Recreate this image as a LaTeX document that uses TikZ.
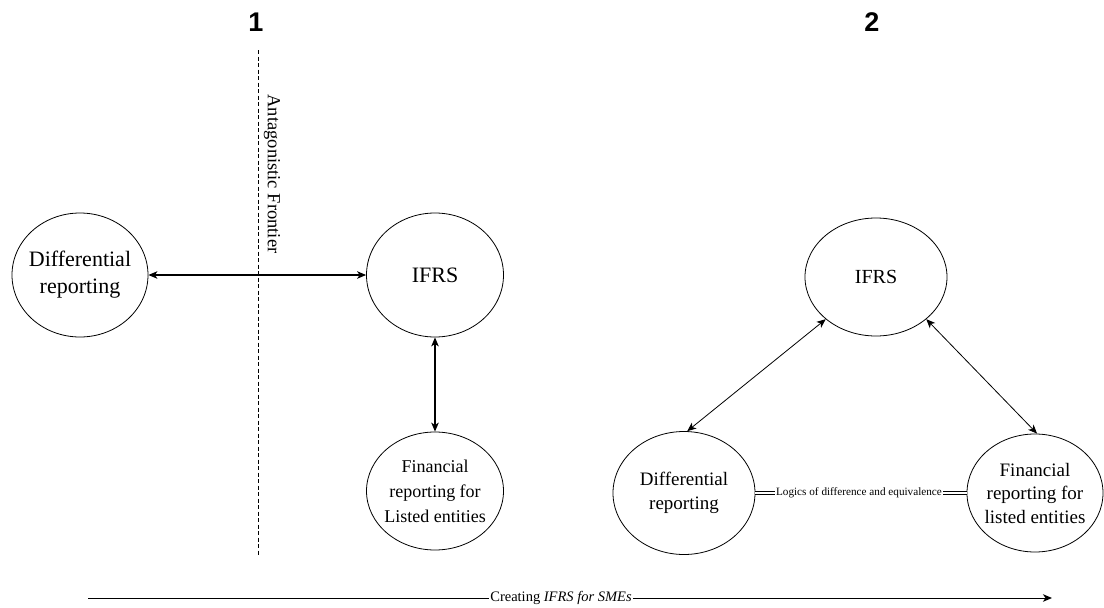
\documentclass[tikz,border=0pt]{standalone}
\usepackage{fontspec}
\setmainfont{Liberation Serif}
\newfontfamily\numfont{Liberation Sans}
\usetikzlibrary{shapes.geometric,arrows.meta}
\begin{document}
\begin{tikzpicture}[x=1pt,y=-1pt,
  oval/.style={ellipse,draw,line width=0.8pt,inner sep=-30pt,align=center},
  bigtxt/.style={font=\fontsize{22}{27}\selectfont},
  midtxt/.style={font=\fontsize{19}{23.5}\selectfont},
  fintxt/.style={font=\fontsize{18}{25}\selectfont},
  tip/.style={{Stealth[length=9pt,width=7.5pt,inset=2.5pt]}-{Stealth[length=9pt,width=7.5pt,inset=2.5pt]}},
  conn/.style={tip,line width=1.1pt},
  thinconn/.style={tip,line width=0.8pt},
  numlab/.style={font=\numfont\bfseries\fontsize{27}{30}\selectfont,inner sep=0pt}]
\useasboundingbox[fill=white] (0,0) rectangle (1104,608);

% section numbers
\node[numlab] (n1) at (256,22) {1};
\node[numlab] (n2) at (872,22) {2};

% antagonistic frontier
\coordinate (ftop) at (258,50);
\coordinate (fbot) at (258,555);
\draw[line width=0.8pt,dash pattern=on 4pt off 2.5pt] (ftop) -- (fbot);
\node[rotate=-90,font=\fontsize{18.5}{22}\selectfont,inner sep=0pt] (ftxt) at (272,174) {Antagonistic Frontier};

% diagram 1
\node[oval,bigtxt,minimum width=136pt,minimum height=124pt] (diff1) at (80,275) {Differential\\reporting};
\node[oval,bigtxt,minimum width=137pt,minimum height=124pt] (ifrs1) at (435,275) {IFRS};
\node[oval,fintxt,minimum width=137pt,minimum height=118pt] (fin1) at (435,491) {Financial\\reporting for\\Listed entities};
\draw[conn] (diff1.east) -- (ifrs1.west);
\draw[conn] (ifrs1.south) -- (fin1.north);

% diagram 2
\node[oval,font=\fontsize{20}{24}\selectfont,minimum width=142pt,minimum height=118pt] (ifrs2) at (876,277) {IFRS};
\node[oval,midtxt,minimum width=142pt,minimum height=123pt] (diff2) at (684,493) {Differential\\reporting};
\node[oval,midtxt,minimum width=136pt,minimum height=118pt] (fin2) at (1035,493) {Financial\\reporting for\\listed entities};
\draw[thinconn] (ifrs2.220) -- (diff2.87);
\draw[thinconn] (ifrs2.320) -- (fin2.88);

\node[font=\fontsize{11.2}{13}\selectfont,inner sep=1pt] (logic) at (859,493) {Logics of difference and equivalence};
\draw[double,line width=0.7pt,double distance=2pt] (diff2.east) -- (logic.west);
\draw[double,line width=0.7pt,double distance=2pt] (logic.east) -- (fin2.west);

% time arrow
\coordinate (tstart) at (88,598);
\coordinate (tend) at (1052,598);
\node[font=\fontsize{14.5}{16}\selectfont,inner sep=1pt] (tlab) at (561,598) {Creating \textit{IFRS for SMEs}};
\draw[line width=1pt] (tstart) -- (tlab.west);
\draw[line width=1pt,-{Stealth[length=9pt,width=7.5pt,inset=2.5pt]}] (tlab.east) -- (tend);
\end{tikzpicture}
\end{document}
